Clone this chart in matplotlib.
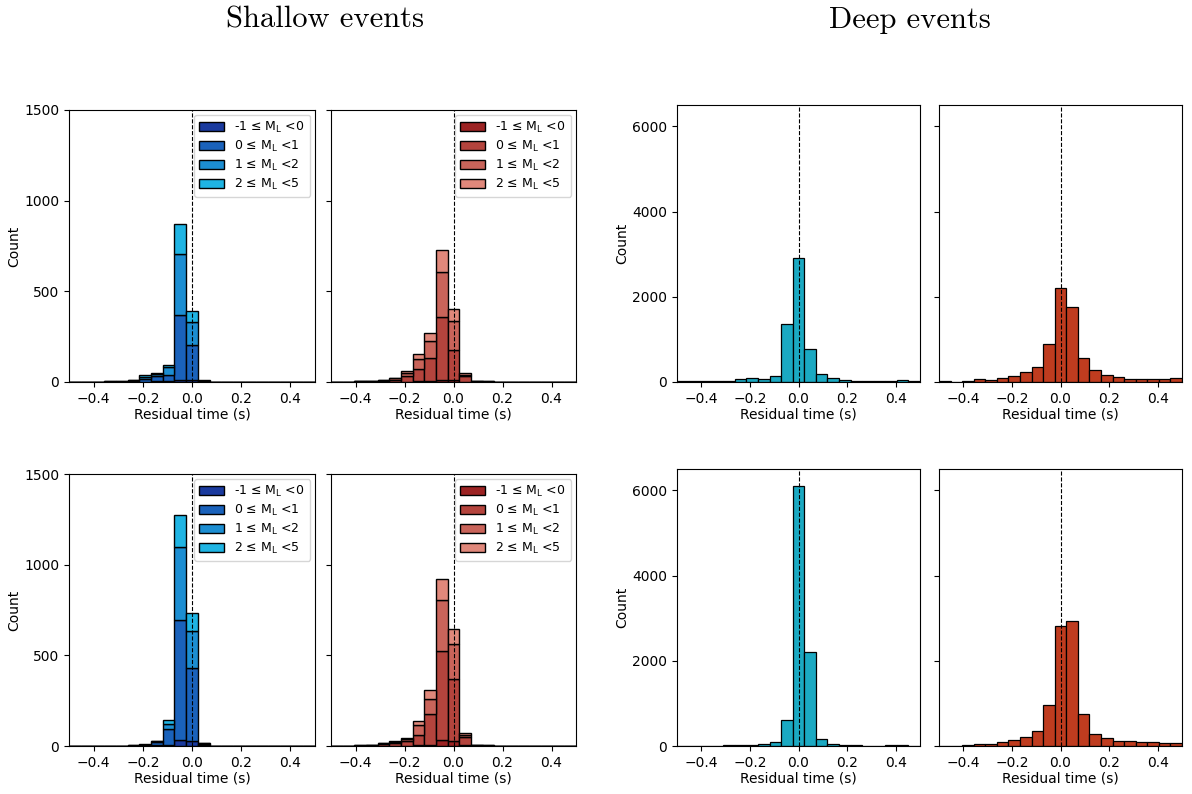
import numpy as np
import matplotlib
matplotlib.use("Agg")
import matplotlib.pyplot as plt

# 21 bins from -0.5 to 0.5 s, centre bin on zero
bin_edges = np.linspace(-0.5, 0.5, 22)
bin_centres = 0.5 * (bin_edges[:-1] + bin_edges[1:])

mag_labels = ["-1 ≤ M$_\\mathrm{L}$ <0", "0 ≤ M$_\\mathrm{L}$ <1",
              "1 ≤ M$_\\mathrm{L}$ <2", "2 ≤ M$_\\mathrm{L}$ <5"]
blues = ["#1a3a9e", "#1a62bb", "#1c8ed2", "#1fb4e3"]
reds = ["#9c2323", "#b4443d", "#c9645a", "#e0887b"]
deep_blue = "#1ba9c2"
deep_red = "#bf3c1f"

# shallow counts per bin, one list per magnitude class
# (bins 0..20, class order: -1..0, 0..1, 1..2, 2..5)
shallow_tl = [
    [0, 0, 0, 0, 0, 1, 2, 3, 5, 13, 10, 2, 0, 0, 0, 0, 0, 0, 0, 0, 0],
    [0, 0, 1, 2, 2, 5, 16, 28, 36, 357, 194, 4, 1, 1, 0, 0, 0, 0, 0, 0, 0],
    [0, 0, 1, 1, 2, 4, 10, 15, 42, 334, 126, 2, 1, 0, 0, 0, 0, 0, 0, 0, 0],
    [0, 0, 0, 1, 1, 3, 9, 6, 13, 170, 63, 1, 0, 0, 0, 0, 0, 0, 0, 0, 0],
]
shallow_tr = [
    [0, 0, 0, 1, 1, 2, 2, 3, 5, 13, 10, 2, 0, 0, 0, 0, 0, 0, 0, 0, 0],
    [0, 1, 3, 4, 5, 11, 31, 71, 125, 344, 168, 29, 3, 2, 1, 0, 0, 0, 0, 0, 0],
    [0, 1, 2, 2, 3, 7, 17, 54, 96, 250, 159, 10, 1, 1, 1, 0, 0, 0, 0, 0, 0],
    [0, 0, 1, 1, 1, 4, 9, 26, 42, 121, 65, 11, 1, 0, 0, 0, 0, 0, 0, 0, 0],
]
shallow_bl = [
    [0, 0, 0, 0, 0, 0, 1, 3, 5, 35, 28, 4, 0, 0, 0, 0, 0, 0, 0, 0, 0],
    [0, 0, 1, 1, 1, 2, 5, 17, 86, 658, 402, 8, 1, 0, 0, 0, 0, 0, 0, 0, 0],
    [0, 0, 1, 0, 0, 1, 2, 7, 33, 405, 203, 3, 1, 0, 0, 0, 0, 0, 0, 0, 0],
    [0, 0, 0, 0, 0, 0, 1, 3, 19, 174, 100, 2, 0, 0, 0, 0, 0, 0, 0, 0, 0],
]
shallow_br = [
    [0, 0, 0, 1, 2, 2, 2, 3, 5, 35, 26, 5, 1, 0, 0, 0, 0, 0, 0, 0, 0],
    [0, 1, 2, 3, 10, 16, 24, 60, 169, 491, 344, 45, 3, 2, 1, 0, 0, 0, 0, 0, 0],
    [0, 0, 1, 1, 2, 4, 13, 52, 83, 280, 195, 9, 1, 1, 0, 0, 0, 0, 0, 0, 0],
    [0, 0, 0, 0, 1, 4, 7, 22, 52, 114, 81, 13, 0, 0, 0, 0, 0, 0, 0, 0, 0],
]

# deep counts per bin
deep_tl = [15, 25, 25, 30, 30, 70, 100, 80, 150, 1360, 2900, 785, 180, 100,
           47, 15, 25, 15, 15, 55, 25]
deep_tr = [15, 10, 30, 60, 55, 100, 130, 245, 350, 880, 2195, 1765, 570, 290,
           170, 115, 60, 70, 60, 60, 85]
deep_bl = [3, 8, 8, 10, 15, 25, 30, 50, 100, 615, 6100, 2210, 160, 45, 35,
           20, 10, 5, 20, 15, 8]
deep_br = [3, 10, 30, 40, 55, 90, 135, 220, 345, 960, 2810, 2940, 745, 290,
           195, 125, 110, 95, 95, 80, 70]

W, H = 1192, 794
fig = plt.figure(figsize=(W / 100, H / 100), dpi=100)


def px_axes(left, top, right, bottom):
    return fig.add_axes([left / W, 1 - bottom / H, (right - left) / W, (bottom - top) / H])


def finish(ax, ylim, yticks, show_ylabels):
    ax.axvline(0, color="k", ls="--", lw=0.8)
    ax.set_xlim(-0.5, 0.5)
    ax.set_xticks([-0.4, -0.2, 0.0, 0.2, 0.4])
    ax.set_ylim(*ylim)
    ax.set_yticks(yticks)
    ax.tick_params(labelsize=10)
    ax.set_xlabel("Residual time (s)", fontsize=10, labelpad=1)
    if show_ylabels:
        ax.set_ylabel("Count", fontsize=10, labelpad=2)
    else:
        ax.tick_params(labelleft=False)


def shallow(ax, counts, colours, show_ylabels):
    ax.hist([bin_centres] * 4, bins=bin_edges, weights=counts, stacked=True,
            color=colours, edgecolor="k", linewidth=1.0, label=mag_labels)
    ax.legend(loc="upper right", fontsize=9, handlelength=2.0,
              labelspacing=0.3, borderaxespad=0.4)
    finish(ax, (0, 1500), [0, 500, 1000, 1500], show_ylabels)


def deep(ax, counts, colour, show_ylabels):
    ax.hist(bin_centres, bins=bin_edges, weights=counts, color=colour,
            edgecolor="k", linewidth=0.9)
    finish(ax, (0, 6500), [0, 2000, 4000, 6000], show_ylabels)


shallow(px_axes(69, 110, 315, 382), shallow_tl, blues, True)
shallow(px_axes(331, 110, 576, 382), shallow_tr, reds, False)
shallow(px_axes(69, 474, 315, 746), shallow_bl, blues, True)
shallow(px_axes(331, 474, 576, 746), shallow_br, reds, False)

deep(px_axes(677, 105, 920, 382), deep_tl, deep_blue, True)
deep(px_axes(939, 105, 1182, 382), deep_tr, deep_red, False)
deep(px_axes(677, 469, 920, 746), deep_bl, deep_blue, True)
deep(px_axes(939, 469, 1182, 746), deep_br, deep_red, False)

fig.text(325 / W, 1 - 20 / H, "Shallow events", ha="center", va="center",
         family="cmr10", fontsize=22)
fig.text(910 / W, 1 - 20 / H, "Deep events", ha="center", va="center",
         family="cmr10", fontsize=22)

fig.savefig("out.png", dpi=100)
